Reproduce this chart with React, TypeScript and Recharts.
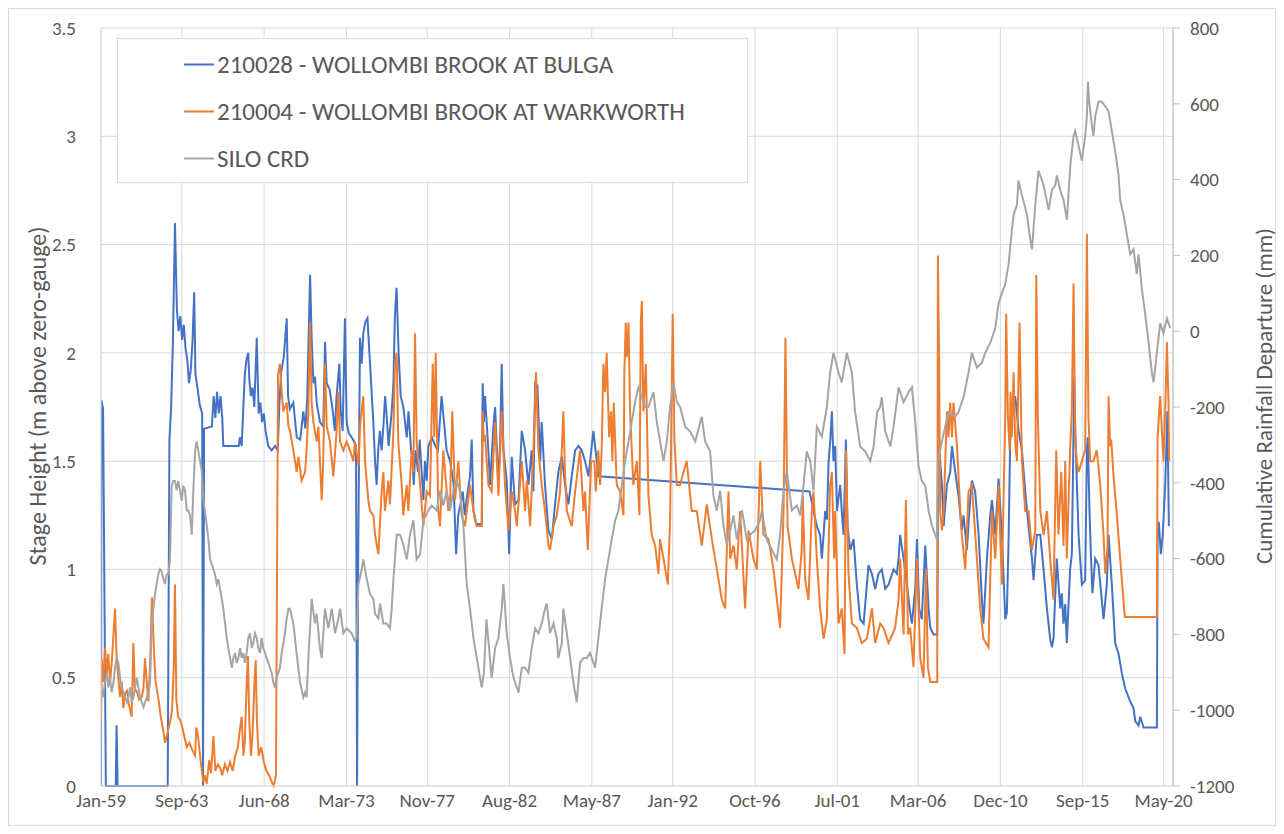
import { CartesianGrid, Line, LineChart, XAxis, YAxis } from "recharts";

// [decimal year, stage height m]
const bulga: [number, number][] = [
  [1959.0, 0], [1959.03, 1.78], [1959.12, 1.74], [1959.28, 0], [1959.85, 0], [1959.9, 0.28], [1959.96, 0],
  [1962.85, 0], [1962.95, 1.6], [1963.05, 1.75], [1963.15, 2.05], [1963.27, 2.6], [1963.38, 2.2], [1963.48, 2.1],
  [1963.58, 2.17], [1963.68, 2.06], [1963.78, 2.13], [1963.88, 2.02], [1963.98, 1.97], [1964.08, 1.86], [1964.18, 1.92],
  [1964.28, 2.05], [1964.38, 2.28], [1964.45, 1.9], [1964.55, 1.85], [1964.7, 1.76], [1964.84, 1.72], [1964.89, 0],
  [1964.95, 1.65], [1965.4, 1.66], [1965.5, 1.8], [1965.6, 1.7], [1965.7, 1.82], [1965.8, 1.72], [1965.9, 1.8],
  [1966.0, 1.7], [1966.06, 1.57], [1966.95, 1.57], [1967.02, 1.61], [1967.12, 1.57], [1967.3, 1.9], [1967.4, 1.97],
  [1967.5, 2.0], [1967.56, 1.88], [1967.65, 1.8], [1967.75, 1.84], [1967.85, 1.75], [1967.99, 2.07], [1968.1, 1.72],
  [1968.2, 1.77], [1968.3, 1.68], [1968.4, 1.72], [1968.5, 1.64], [1968.65, 1.57], [1968.85, 1.55], [1969.05, 1.57],
  [1969.2, 1.55], [1969.3, 1.77], [1969.4, 1.91], [1969.55, 1.98], [1969.72, 2.16], [1969.8, 1.8], [1969.9, 1.74],
  [1970.1, 1.77], [1970.3, 1.61], [1970.5, 1.6], [1970.68, 1.73], [1970.8, 1.65], [1970.9, 1.78], [1971.07, 2.36],
  [1971.16, 2.07], [1971.26, 1.86], [1971.35, 1.89], [1971.45, 1.77], [1971.64, 1.68], [1971.83, 1.66], [1971.93, 2.05],
  [1972.03, 1.86], [1972.2, 1.83], [1972.35, 1.75], [1972.5, 1.64], [1972.6, 1.8], [1972.76, 1.95], [1972.84, 1.73],
  [1972.95, 1.64], [1973.08, 2.16], [1973.18, 1.68], [1973.3, 1.63], [1973.55, 1.6], [1973.72, 1.57], [1973.78, 0],
  [1973.84, 1.0], [1973.95, 2.07], [1974.05, 1.95], [1974.14, 2.09], [1974.25, 2.14], [1974.38, 2.16], [1974.53, 1.95],
  [1974.62, 1.82], [1974.72, 1.68], [1974.82, 1.5], [1974.91, 1.39], [1975.0, 1.55], [1975.1, 1.64], [1975.2, 1.55],
  [1975.3, 1.66], [1975.4, 1.8], [1975.5, 1.7], [1975.6, 1.57], [1975.78, 1.73], [1975.88, 1.86], [1975.97, 2.18],
  [1976.06, 2.3], [1976.18, 2.0], [1976.3, 1.8], [1976.45, 1.75], [1976.65, 1.61], [1976.75, 1.73], [1976.9, 1.55],
  [1977.0, 1.5], [1977.05, 1.39], [1977.15, 1.55], [1977.3, 1.45], [1977.4, 1.6], [1977.5, 1.46], [1977.61, 1.32],
  [1977.7, 1.5], [1977.8, 1.41], [1977.9, 1.57], [1978.1, 1.61], [1978.3, 1.57], [1978.45, 1.55], [1978.66, 1.8],
  [1978.8, 1.68], [1978.95, 1.55], [1979.15, 1.5], [1979.35, 1.4], [1979.5, 1.07], [1979.62, 1.25], [1979.75, 1.3],
  [1979.88, 1.36], [1980.0, 1.25], [1980.1, 1.32], [1980.3, 1.43], [1980.4, 1.6], [1980.5, 1.27], [1980.65, 1.21],
  [1980.98, 1.21], [1981.03, 1.86], [1981.1, 1.68], [1981.17, 1.8], [1981.36, 1.55], [1981.46, 1.39], [1981.65, 1.66],
  [1981.75, 1.75], [1981.94, 1.39], [1982.04, 1.59], [1982.13, 1.95], [1982.23, 1.55], [1982.42, 1.41], [1982.56, 1.07],
  [1982.71, 1.52], [1982.9, 1.3], [1983.1, 1.32], [1983.29, 1.64], [1983.48, 1.55], [1983.67, 1.39], [1983.86, 1.55],
  [1983.96, 1.36], [1984.06, 1.86], [1984.19, 1.85], [1984.35, 1.5], [1984.44, 1.68], [1984.63, 1.39], [1984.83, 1.18],
  [1985.02, 1.14], [1985.21, 1.3], [1985.4, 1.45], [1985.6, 1.52], [1985.79, 1.39], [1985.98, 1.3], [1986.17, 1.43],
  [1986.37, 1.55], [1986.56, 1.57], [1986.75, 1.55], [1986.94, 1.5], [1987.14, 1.43], [1987.42, 1.64], [1987.62, 1.5],
  [1987.71, 1.43], [1999.9, 1.36], [2000.13, 1.27], [2000.32, 1.2], [2000.51, 1.16], [2000.61, 1.05], [2000.71, 1.16],
  [2000.8, 1.27], [2000.9, 1.23], [2001.0, 1.5], [2001.09, 1.59], [2001.19, 1.73], [2001.28, 1.5], [2001.38, 1.57],
  [2001.48, 1.27], [2001.67, 1.39], [2001.76, 1.27], [2001.86, 1.16], [2002.0, 1.6], [2002.09, 1.2], [2002.25, 1.09],
  [2002.44, 1.14], [2002.63, 0.93], [2002.82, 0.77], [2003.02, 0.75], [2003.21, 0.93], [2003.3, 1.02], [2003.5, 0.98],
  [2003.69, 0.91], [2003.88, 0.98], [2004.07, 1.0], [2004.27, 0.91], [2004.46, 0.93], [2004.75, 1.0], [2004.94, 0.98],
  [2005.04, 1.05], [2005.13, 1.16], [2005.33, 1.05], [2005.52, 0.93], [2005.71, 0.8], [2005.81, 0.75], [2006.0, 0.91],
  [2006.1, 1.14], [2006.23, 0.82], [2006.38, 0.77], [2006.58, 1.11], [2006.77, 0.82], [2006.87, 0.73], [2007.06, 0.7],
  [2007.27, 0.7], [2007.33, 1.5], [2007.38, 1.57], [2007.54, 1.39], [2007.64, 1.2], [2007.83, 1.39], [2008.02, 1.45],
  [2008.12, 1.57], [2008.31, 1.45], [2008.5, 1.34], [2008.69, 1.18], [2008.79, 1.25], [2008.98, 1.09], [2009.17, 1.32],
  [2009.27, 1.41], [2009.46, 1.36], [2009.66, 1.16], [2009.85, 0.86], [2009.94, 0.75], [2010.14, 1.05], [2010.33, 1.25],
  [2010.43, 1.32], [2010.62, 1.16], [2010.81, 1.42], [2011.0, 1.16], [2011.2, 0.77], [2011.29, 0.8], [2011.39, 1.14],
  [2011.48, 1.59], [2011.62, 1.73], [2011.77, 1.8], [2011.97, 1.64], [2012.16, 1.55], [2012.35, 1.36], [2012.54, 1.2],
  [2012.74, 1.05], [2012.83, 0.95], [2013.02, 1.16], [2013.22, 1.16], [2013.41, 1.0], [2013.6, 0.82], [2013.79, 0.68],
  [2013.89, 0.64], [2013.98, 0.68], [2014.17, 1.05], [2014.37, 0.82], [2014.46, 0.89], [2014.56, 0.75], [2014.66, 0.84],
  [2014.75, 0.66], [2014.94, 1.0], [2015.04, 1.07], [2015.1, 1.41], [2015.18, 1.89], [2015.23, 1.68], [2015.33, 1.4],
  [2015.43, 1.16], [2015.52, 1.05], [2015.62, 0.93], [2015.81, 0.95], [2015.91, 1.55], [2015.96, 1.61], [2016.06, 1.27],
  [2016.14, 1.07], [2016.23, 0.89], [2016.39, 1.05], [2016.58, 1.02], [2016.77, 0.86], [2016.87, 0.77], [2017.06, 0.93],
  [2017.16, 1.16], [2017.35, 0.93], [2017.54, 0.66], [2017.74, 0.61], [2017.93, 0.52], [2018.12, 0.45], [2018.41, 0.39],
  [2018.6, 0.36], [2018.7, 0.3], [2018.89, 0.28], [2018.99, 0.32], [2019.18, 0.27], [2019.95, 0.27], [2019.99, 1.16],
  [2020.06, 1.22], [2020.18, 1.07], [2020.29, 1.16], [2020.43, 1.39], [2020.56, 1.73], [2020.64, 1.2],
];

const warkworth: [number, number][] = [
  [1959.0, 0.3], [1959.04, 0.59], [1959.13, 0.48], [1959.23, 0.64], [1959.33, 0.52], [1959.42, 0.61], [1959.52, 0.48],
  [1959.62, 0.57], [1959.72, 0.7], [1959.81, 0.82], [1959.9, 0.6], [1960.0, 0.5], [1960.1, 0.41], [1960.2, 0.48],
  [1960.29, 0.36], [1960.4, 0.43], [1960.5, 0.44], [1960.6, 0.38], [1960.77, 0.32], [1960.87, 0.66], [1960.95, 0.45],
  [1961.1, 0.43], [1961.2, 0.4], [1961.35, 0.41], [1961.45, 0.45], [1961.54, 0.59], [1961.64, 0.48], [1961.73, 0.39],
  [1961.83, 0.55], [1961.94, 0.87], [1962.05, 0.64], [1962.15, 0.48], [1962.3, 0.41], [1962.45, 0.32], [1962.6, 0.25],
  [1962.7, 0.2], [1962.85, 0.25], [1963.0, 0.3], [1963.1, 0.35], [1963.2, 0.55], [1963.27, 0.93], [1963.35, 0.4],
  [1963.45, 0.32], [1963.6, 0.3], [1963.75, 0.25], [1963.95, 0.18], [1964.1, 0.2], [1964.3, 0.16], [1964.43, 0.14],
  [1964.5, 0.27], [1964.6, 0.23], [1964.72, 0.14], [1964.82, 0.07], [1964.91, 0.02], [1965.0, 0.05], [1965.1, 0.01],
  [1965.25, 0.12], [1965.35, 0.06], [1965.49, 0.23], [1965.6, 0.07], [1965.75, 0.1], [1965.9, 0.08], [1966.0, 0.05],
  [1966.15, 0.1], [1966.3, 0.07], [1966.45, 0.11], [1966.6, 0.07], [1966.75, 0.14], [1966.9, 0.18], [1967.0, 0.25],
  [1967.12, 0.32], [1967.22, 0.14], [1967.3, 0.2], [1967.4, 0.45], [1967.48, 0.6], [1967.56, 0.3], [1967.66, 0.14],
  [1967.75, 0.25], [1967.87, 0.5], [1967.93, 0.58], [1968.0, 0.3], [1968.1, 0.14], [1968.25, 0.18], [1968.4, 0.11],
  [1968.55, 0.07], [1968.7, 0.05], [1968.85, 0.02], [1968.97, 0.0], [1969.1, 0.05], [1969.16, 1.0], [1969.22, 1.9],
  [1969.33, 1.95], [1969.43, 1.82], [1969.53, 1.73], [1969.62, 1.75], [1969.72, 1.77], [1969.82, 1.66], [1969.91, 1.64],
  [1970.1, 1.55], [1970.2, 1.5], [1970.29, 1.45], [1970.39, 1.52], [1970.58, 1.41], [1970.78, 1.45], [1970.87, 1.55],
  [1970.97, 1.73], [1971.07, 2.14], [1971.16, 1.77], [1971.26, 1.68], [1971.45, 1.59], [1971.55, 1.66], [1971.74, 1.32],
  [1971.83, 1.5], [1971.93, 1.95], [1972.03, 1.66], [1972.22, 1.59], [1972.41, 1.43], [1972.6, 1.64], [1972.7, 1.82],
  [1972.8, 1.59], [1972.99, 1.55], [1973.18, 1.59], [1973.37, 1.55], [1973.57, 1.5], [1973.66, 1.59], [1973.86, 1.48],
  [1973.95, 1.66], [1974.14, 1.8], [1974.24, 1.5], [1974.43, 1.32], [1974.53, 1.27], [1974.72, 1.25], [1974.82, 1.16],
  [1975.01, 1.07], [1975.2, 1.36], [1975.3, 1.45], [1975.39, 1.27], [1975.59, 1.41], [1975.68, 1.3], [1975.88, 1.64],
  [1975.97, 1.95], [1976.07, 2.0], [1976.16, 1.59], [1976.36, 1.39], [1976.45, 1.25], [1976.65, 1.39], [1976.74, 1.27],
  [1976.93, 1.55], [1977.03, 1.45], [1977.13, 2.09], [1977.22, 1.59], [1977.42, 1.39], [1977.61, 1.2], [1977.8, 1.36],
  [1977.99, 1.34], [1978.15, 1.95], [1978.24, 1.61], [1978.32, 2.0], [1978.47, 1.27], [1978.57, 1.2], [1978.76, 1.55],
  [1979.05, 1.27], [1979.15, 1.32], [1979.28, 1.73], [1979.44, 1.32], [1979.63, 1.5], [1979.82, 1.25], [1980.01, 1.2],
  [1980.3, 1.39], [1980.5, 1.27], [1980.69, 1.2], [1980.98, 1.2], [1981.03, 1.73], [1981.1, 1.6], [1981.17, 1.61],
  [1981.36, 1.39], [1981.55, 1.36], [1981.75, 1.68], [1981.94, 1.34], [1982.13, 1.73], [1982.32, 1.39], [1982.52, 1.18],
  [1982.71, 1.36], [1982.9, 1.27], [1983.0, 1.2], [1983.29, 1.5], [1983.48, 1.27], [1983.58, 1.41], [1983.77, 1.2],
  [1983.96, 1.55], [1984.11, 1.91], [1984.25, 1.55], [1984.44, 1.39], [1984.63, 1.27], [1984.83, 1.11], [1984.92, 1.09],
  [1985.12, 1.2], [1985.31, 1.25], [1985.5, 1.36], [1985.69, 1.73], [1985.79, 1.43], [1985.89, 1.27], [1986.17, 1.2],
  [1986.37, 1.36], [1986.65, 1.55], [1986.85, 1.27], [1986.94, 1.36], [1987.1, 1.09], [1987.29, 1.5], [1987.48, 1.5],
  [1987.56, 1.36], [1987.71, 1.55], [1987.81, 1.39], [1987.9, 1.55], [1988.0, 1.95], [1988.1, 1.82], [1988.19, 2.0],
  [1988.33, 1.61], [1988.44, 1.73], [1988.52, 1.5], [1988.6, 1.77], [1988.77, 1.39], [1988.96, 1.36], [1989.16, 1.25],
  [1989.21, 1.91], [1989.29, 2.14], [1989.35, 1.98], [1989.45, 2.14], [1989.54, 1.73], [1989.73, 1.39], [1989.93, 1.5],
  [1990.08, 1.25], [1990.16, 2.14], [1990.22, 2.24], [1990.31, 1.73], [1990.45, 1.95], [1990.6, 1.34], [1990.79, 1.16],
  [1990.99, 1.11], [1991.18, 0.98], [1991.27, 1.14], [1991.47, 1.05], [1991.72, 0.93], [1991.85, 1.23], [1991.95, 1.84],
  [1992.0, 2.18], [1992.1, 1.6], [1992.24, 1.39], [1992.43, 1.39], [1992.62, 1.45], [1992.81, 1.5], [1993.1, 1.27],
  [1993.39, 1.27], [1993.68, 1.11], [1993.97, 1.3], [1994.26, 1.14], [1994.55, 1.0], [1994.84, 0.86], [1995.03, 0.82],
  [1995.22, 1.36], [1995.32, 1.05], [1995.51, 1.11], [1995.7, 1.0], [1995.89, 1.27], [1996.18, 0.82], [1996.38, 1.18],
  [1996.66, 1.05], [1996.86, 1.0], [1997.05, 1.5], [1997.24, 1.16], [1997.53, 1.14], [1997.82, 1.0], [1998.2, 0.73],
  [1998.4, 1.27], [1998.51, 2.07], [1998.63, 1.2], [1998.88, 1.05], [1999.26, 0.91], [1999.45, 1.09], [1999.51, 1.34],
  [1999.65, 0.95], [1999.84, 0.86], [2000.03, 1.27], [2000.13, 1.36], [2000.32, 1.05], [2000.51, 0.82], [2000.71, 0.68],
  [2000.9, 0.77], [2001.09, 1.39], [2001.19, 1.45], [2001.32, 1.05], [2001.38, 1.27], [2001.57, 0.75], [2001.76, 0.82],
  [2001.92, 0.61], [2002.0, 1.55], [2002.15, 0.98], [2002.34, 0.75], [2002.63, 0.73], [2002.92, 0.66], [2003.21, 0.68],
  [2003.5, 0.82], [2003.69, 0.66], [2003.98, 0.75], [2004.17, 0.73], [2004.46, 0.66], [2004.84, 0.73], [2005.04, 0.86],
  [2005.13, 1.05], [2005.33, 0.7], [2005.46, 1.32], [2005.58, 0.7], [2005.71, 0.73], [2005.9, 0.55], [2006.1, 1.05],
  [2006.29, 0.59], [2006.48, 0.5], [2006.62, 1.0], [2006.73, 0.55], [2006.87, 0.48], [2007.27, 0.48], [2007.31, 2.45],
  [2007.38, 1.95], [2007.44, 1.27], [2007.54, 1.18], [2007.64, 1.27], [2007.83, 1.73], [2007.92, 1.61], [2008.02, 1.77],
  [2008.12, 1.61], [2008.21, 1.77], [2008.41, 1.57], [2008.6, 1.27], [2008.69, 1.16], [2008.89, 1.0], [2009.08, 1.36],
  [2009.27, 1.39], [2009.56, 1.05], [2009.75, 0.82], [2009.94, 0.68], [2010.23, 0.64], [2010.43, 1.27], [2010.62, 1.05],
  [2010.81, 1.39], [2011.0, 0.93], [2011.2, 1.73], [2011.25, 2.18], [2011.35, 1.7], [2011.45, 1.55], [2011.5, 1.82],
  [2011.58, 1.61], [2011.68, 1.91], [2011.77, 1.59], [2011.87, 1.5], [2012.02, 2.14], [2012.16, 1.5], [2012.35, 1.27],
  [2012.54, 1.27], [2012.74, 1.09], [2012.93, 1.18], [2012.99, 2.36], [2013.08, 1.7], [2013.22, 1.27], [2013.41, 1.16],
  [2013.6, 1.27], [2013.79, 1.05], [2013.98, 0.86], [2014.14, 1.55], [2014.27, 1.16], [2014.43, 1.45], [2014.56, 1.11],
  [2014.66, 1.5], [2014.75, 1.05], [2014.94, 1.55], [2015.04, 1.73], [2015.14, 2.32], [2015.23, 1.6], [2015.33, 1.5],
  [2015.43, 1.45], [2015.62, 1.5], [2015.81, 1.55], [2015.91, 2.55], [2016.0, 1.7], [2016.1, 1.5], [2016.29, 1.5],
  [2016.48, 1.55], [2016.68, 1.39], [2016.87, 1.16], [2016.97, 0.98], [2017.1, 1.1], [2017.16, 1.8], [2017.25, 1.57],
  [2017.31, 1.6], [2017.45, 1.43], [2017.64, 1.25], [2017.83, 1.05], [2018.1, 0.78], [2019.95, 0.78], [2019.99, 1.61],
  [2020.14, 1.8], [2020.33, 1.5], [2020.43, 1.73], [2020.53, 2.05], [2020.62, 1.77], [2020.66, 1.5],
];

// [decimal year, cumulative rainfall departure mm]
const siloCrd: [number, number][] = [
  [1959.0, -940], [1959.1, -966], [1959.23, -927], [1959.33, -901], [1959.42, -940], [1959.52, -914], [1959.62, -953],
  [1959.72, -927], [1959.81, -888], [1959.9, -862], [1960.0, -875], [1960.1, -914], [1960.2, -940], [1960.29, -953],
  [1960.4, -966], [1960.5, -979], [1960.58, -966], [1960.68, -940], [1960.77, -979], [1960.87, -966], [1960.97, -940],
  [1961.06, -914], [1961.16, -940], [1961.25, -966], [1961.35, -979], [1961.45, -992], [1961.54, -979], [1961.64, -966],
  [1961.73, -953], [1961.83, -927], [1961.92, -784], [1962.02, -732], [1962.12, -693], [1962.21, -667], [1962.31, -641],
  [1962.4, -628], [1962.5, -633], [1962.6, -654], [1962.69, -667], [1962.79, -641], [1962.89, -641], [1962.98, -602],
  [1963.08, -408], [1963.17, -395], [1963.27, -395], [1963.37, -420], [1963.46, -395], [1963.56, -420], [1963.66, -447],
  [1963.75, -408], [1963.85, -420], [1963.95, -473], [1964.04, -473], [1964.14, -486], [1964.24, -537], [1964.33, -420],
  [1964.43, -317], [1964.52, -291], [1964.62, -317], [1964.72, -343], [1964.81, -368], [1964.91, -447], [1965.0, -473],
  [1965.2, -550], [1965.3, -602], [1965.39, -615], [1965.49, -628], [1965.58, -641], [1965.68, -667], [1965.78, -654],
  [1965.87, -680], [1965.97, -706], [1966.06, -732], [1966.16, -771], [1966.26, -810], [1966.35, -836], [1966.45, -862],
  [1966.55, -888], [1966.64, -862], [1966.74, -849], [1966.83, -875], [1966.93, -862], [1967.03, -836], [1967.12, -862],
  [1967.22, -849], [1967.31, -875], [1967.41, -849], [1967.5, -810], [1967.6, -797], [1967.7, -836], [1967.79, -823],
  [1967.89, -797], [1967.99, -810], [1968.08, -836], [1968.18, -849], [1968.27, -810], [1968.37, -836], [1968.47, -849],
  [1968.56, -862], [1968.66, -875], [1968.75, -888], [1968.85, -901], [1968.95, -927], [1969.04, -940], [1969.14, -914],
  [1969.24, -901], [1969.33, -888], [1969.43, -849], [1969.53, -823], [1969.62, -797], [1969.72, -758], [1969.82, -732],
  [1969.91, -732], [1970.1, -771], [1970.29, -849], [1970.49, -927], [1970.68, -966], [1970.78, -953], [1970.87, -966],
  [1970.97, -862], [1971.16, -706], [1971.35, -771], [1971.45, -745], [1971.64, -836], [1971.74, -862], [1971.93, -732],
  [1972.12, -784], [1972.32, -732], [1972.51, -797], [1972.7, -758], [1972.8, -732], [1972.99, -797], [1973.18, -784],
  [1973.47, -797], [1973.66, -817], [1973.76, -810], [1973.86, -667], [1974.05, -628], [1974.14, -602], [1974.34, -654],
  [1974.53, -693], [1974.72, -706], [1974.82, -745], [1975.01, -758], [1975.11, -719], [1975.3, -771], [1975.49, -771],
  [1975.68, -784], [1975.78, -732], [1975.88, -654], [1976.07, -537], [1976.26, -537], [1976.45, -563], [1976.65, -602],
  [1976.84, -537], [1977.03, -499], [1977.22, -602], [1977.42, -589], [1977.61, -499], [1977.9, -473], [1978.09, -460],
  [1978.38, -473], [1978.57, -421], [1978.76, -460], [1978.95, -421], [1979.15, -473], [1979.34, -421], [1979.53, -395],
  [1979.72, -421], [1979.92, -512], [1980.11, -667], [1980.3, -732], [1980.5, -810], [1980.69, -862], [1980.88, -914],
  [1980.98, -940], [1981.1, -901], [1981.25, -760], [1981.4, -836], [1981.55, -914], [1981.75, -836], [1981.94, -810],
  [1982.13, -732], [1982.23, -667], [1982.42, -797], [1982.61, -862], [1982.81, -914], [1983.0, -940], [1983.1, -953],
  [1983.29, -888], [1983.48, -888], [1983.67, -901], [1983.86, -836], [1984.06, -784], [1984.25, -797], [1984.44, -771],
  [1984.63, -732], [1984.73, -719], [1984.92, -797], [1985.12, -771], [1985.31, -810], [1985.4, -862], [1985.6, -823],
  [1985.69, -732], [1985.89, -797], [1986.08, -862], [1986.27, -927], [1986.46, -979], [1986.65, -875], [1986.85, -862],
  [1987.04, -862], [1987.23, -849], [1987.52, -888], [1987.71, -810], [1987.9, -732], [1988.1, -654], [1988.29, -602],
  [1988.48, -550], [1988.68, -499], [1988.87, -473], [1989.06, -408], [1989.25, -343], [1989.45, -291], [1989.64, -239],
  [1989.83, -187], [1990.02, -148], [1990.22, -174], [1990.41, -200], [1990.6, -200], [1990.79, -174], [1990.89, -161],
  [1991.08, -239], [1991.37, -317], [1991.47, -343], [1991.66, -291], [1991.85, -200], [1992.04, -135], [1992.24, -187],
  [1992.43, -200], [1992.72, -252], [1993.01, -265], [1993.3, -291], [1993.68, -226], [1993.87, -291], [1994.16, -317],
  [1994.35, -434], [1994.55, -473], [1994.74, -421], [1994.93, -512], [1995.12, -563], [1995.32, -525], [1995.51, -486],
  [1995.7, -550], [1996.0, -473], [1996.28, -550], [1996.47, -537], [1996.76, -525], [1997.05, -499], [1997.15, -473],
  [1997.43, -550], [1997.72, -576], [1998.01, -602], [1998.2, -537], [1998.4, -421], [1998.59, -369], [1998.88, -473],
  [1999.17, -460], [1999.36, -486], [1999.55, -408], [1999.74, -317], [1999.94, -343], [2000.13, -421], [2000.32, -252],
  [2000.61, -278], [2000.9, -200], [2001.09, -109], [2001.28, -57], [2001.57, -109], [2001.76, -135], [2002.05, -57],
  [2002.34, -109], [2002.53, -213], [2002.82, -304], [2003.11, -317], [2003.4, -343], [2003.6, -304], [2003.8, -213],
  [2003.98, -200], [2004.07, -174], [2004.27, -265], [2004.56, -304], [2004.75, -252], [2005.04, -148], [2005.33, -187],
  [2005.61, -161], [2005.81, -148], [2006.0, -239], [2006.19, -356], [2006.38, -395], [2006.58, -408], [2006.77, -473],
  [2006.96, -512], [2007.25, -550], [2007.31, -343], [2007.54, -291], [2007.73, -252], [2007.92, -213], [2008.31, -226],
  [2008.5, -213], [2008.79, -174], [2009.08, -109], [2009.27, -57], [2009.56, -96], [2009.85, -83], [2010.04, -57],
  [2010.33, -31], [2010.62, 8], [2010.81, 73], [2011.0, 99], [2011.2, 125], [2011.39, 177], [2011.58, 268],
  [2011.68, 307], [2011.87, 333], [2011.96, 398], [2012.16, 359], [2012.45, 307], [2012.64, 242], [2012.74, 216],
  [2012.93, 333], [2013.12, 424], [2013.41, 385], [2013.7, 320], [2013.89, 372], [2014.08, 385], [2014.18, 411],
  [2014.37, 372], [2014.56, 346], [2014.76, 294], [2014.95, 437], [2015.14, 515], [2015.23, 528], [2015.43, 489],
  [2015.62, 450], [2015.81, 515], [2015.91, 567], [2015.97, 658], [2016.04, 606], [2016.2, 541], [2016.29, 515],
  [2016.39, 567], [2016.58, 606], [2016.77, 606], [2016.97, 593], [2017.16, 580], [2017.35, 528], [2017.54, 476],
  [2017.74, 411], [2017.83, 346], [2018.02, 307], [2018.22, 255], [2018.41, 203], [2018.6, 216], [2018.79, 151],
  [2018.89, 203], [2019.08, 112], [2019.27, 47], [2019.47, -31], [2019.66, -109], [2019.76, -135], [2019.95, -57],
  [2020.14, 21], [2020.33, -5], [2020.53, 34], [2020.72, 8],
];

const xTicks = [1959.0, 1963.667, 1968.417, 1973.167, 1977.833, 1982.583, 1987.333, 1992.0, 1996.75, 2001.5, 2006.167, 2010.917, 2015.667, 2020.333];
const xTickLabels = ["Jan-59", "Sep-63", "Jun-68", "Mar-73", "Nov-77", "Aug-82", "May-87", "Jan-92", "Oct-96", "Jul-01", "Mar-06", "Dec-10", "Sep-15", "May-20"];
const stageTicks = [0, 0.5, 1, 1.5, 2, 2.5, 3, 3.5];
const crdTicks = [-1200, -1000, -800, -600, -400, -200, 0, 200, 400, 600, 800];

const series = [
  { name: "210028 - WOLLOMBI BROOK AT BULGA", color: "#4472c4", axis: "left", points: bulga },
  { name: "210004 - WOLLOMBI BROOK AT WARKWORTH", color: "#ed7d31", axis: "left", points: warkworth },
  { name: "SILO CRD", color: "#a5a5a5", axis: "right", points: siloCrd },
];

const FONT = "Carlito, Calibri, Lato, sans-serif";
const TEXT = "#595959";
const GRID = "#d9d9d9";
const TICK_FONT = 19;

const toRows = (pts: [number, number][]) => pts.map(([t, v]) => ({ t, v }));

export default function App() {
  return (
    <div
      style={{
        position: "relative",
        width: 1266,
        height: 816,
        border: `1px solid ${GRID}`,
        background: "#fff",
        fontFamily: FONT,
      }}
    >
      <LineChart width={1266} height={816} margin={{ top: 19, right: 30, left: 30, bottom: 9 }}>
        <CartesianGrid yAxisId="left" stroke={GRID} strokeWidth={1} />
        <XAxis
          type="number"
          dataKey="t"
          domain={[1959, 2020.88]}
          ticks={xTicks}
          interval={0}
          allowDataOverflow
          height={30}
          tickSize={0}
          tickMargin={8}
          tickFormatter={(_v, i) => xTickLabels[i] ?? ""}
          tick={{ fill: TEXT, fontSize: TICK_FONT }}
          axisLine={{ stroke: GRID }}
        />
        <YAxis
          yAxisId="left"
          domain={[0, 3.5]}
          ticks={stageTicks}
          interval={0}
          width={62}
          tickSize={0}
          tickMargin={25}
          tick={{ fill: TEXT, fontSize: TICK_FONT }}
          axisLine={{ stroke: GRID }}
        />
        <YAxis
          yAxisId="right"
          orientation="right"
          domain={[-1200, 800]}
          ticks={crdTicks}
          interval={0}
          width={72}
          tickSize={7}
          tickMargin={10}
          tick={{ fill: TEXT, fontSize: TICK_FONT }}
          axisLine={{ stroke: "#bfbfbf" }}
          tickLine={{ stroke: "#bfbfbf" }}
        />
        {series.map((s) => (
          <Line
            key={s.name}
            yAxisId={s.axis}
            data={toRows(s.points)}
            dataKey="v"
            name={s.name}
            type="linear"
            stroke={s.color}
            strokeWidth={2}
            dot={false}
            activeDot={false}
            isAnimationActive={false}
          />
        ))}
      </LineChart>

      <div
        style={{
          position: "absolute",
          left: 28,
          top: 387,
          transform: "translate(-50%, -50%) rotate(-90deg)",
          whiteSpace: "nowrap",
          fontSize: 24,
          color: TEXT,
        }}
      >
        Stage Height (m above zero-gauge)
      </div>
      <div
        style={{
          position: "absolute",
          left: 1255,
          top: 387,
          transform: "translate(-50%, -50%) rotate(-90deg)",
          whiteSpace: "nowrap",
          fontSize: 23,
          color: TEXT,
        }}
      >
        Cumulative Rainfall Departure (mm)
      </div>

      <div
        style={{
          position: "absolute",
          left: 108,
          top: 29,
          width: 631,
          height: 145,
          boxSizing: "border-box",
          border: `1px solid ${GRID}`,
          background: "#fff",
        }}
      >
        {series.map((s, i) => (
          <div
            key={s.name}
            style={{
              position: "absolute",
              left: 66,
              top: 25 + i * 47,
              transform: "translateY(-50%)",
              display: "flex",
              alignItems: "center",
              whiteSpace: "nowrap",
            }}
          >
            <span style={{ display: "inline-block", width: 30, height: 2, background: s.color, marginRight: 3 }} />
            <span style={{ fontSize: 25, color: TEXT }}>{s.name}</span>
          </div>
        ))}
      </div>
    </div>
  );
}
